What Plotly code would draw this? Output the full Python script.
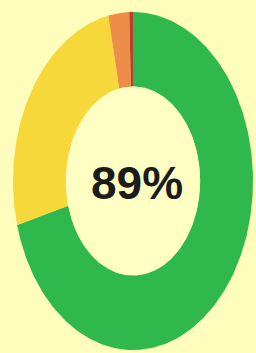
import numpy as np
import plotly.graph_objects as go

# Data
labels = ["Green", "Yellow", "Orange", "Red"]
values = [70.8, 25.9, 2.8, 0.5]
colors = ["#2FB84B", "#F6D83B", "#EE8C4A", "#B8402E"]
center_label = "89%"

# Layout parameters (donut drawn as an ellipse in axis units)
hole = 0.56
bg = "#FEFDBB"
hole_color = "#FFFFC4"

fig = go.Figure()
total = sum(values)
cum = 0.0
for lab, v, c in zip(labels, values, colors):
    a0 = 2 * np.pi * cum / total
    cum += v
    a1 = 2 * np.pi * cum / total
    t = np.linspace(a0, a1, max(4, int(400 * v / total) + 2))
    xo, yo = np.sin(t), np.cos(t)
    xi, yi = hole * np.sin(t[::-1]), hole * np.cos(t[::-1])
    fig.add_trace(go.Scatter(
        x=np.concatenate([xo, xi, xo[:1]]),
        y=np.concatenate([yo, yi, yo[:1]]),
        fill="toself", fillcolor=c, mode="lines",
        line=dict(width=0, color=c), name=lab, hoverinfo="name",
    ))

# hole fill
th = np.linspace(0, 2 * np.pi, 200)
fig.add_trace(go.Scatter(x=hole * np.sin(th) * 0.995, y=hole * np.cos(th) * 0.995,
                         fill="toself", fillcolor=hole_color, mode="lines",
                         line=dict(width=0), hoverinfo="skip"))

fig.add_annotation(x=0.03, y=-0.01, text="<b>" + center_label + "</b>", showarrow=False,
                   font=dict(family="Liberation Sans Narrow, Liberation Sans, Arial, sans-serif",
                             size=46, color="#1C1C1C"),
                   xanchor="center", yanchor="middle")

fig.update_layout(
    width=256, height=353,
    margin=dict(l=0, r=0, t=0, b=0),
    paper_bgcolor=bg, plot_bgcolor=bg,
    showlegend=False,
    xaxis=dict(range=[-133 / 120, (256 - 133) / 120], visible=False, fixedrange=True),
    yaxis=dict(range=[-(353 - 181) / 169, 181 / 169], visible=False, fixedrange=True),
)
fig.write_html("out.html", config={"displayModeBar": False},
               post_script="document.body.style.margin='0';document.body.style.overflow='hidden';")
